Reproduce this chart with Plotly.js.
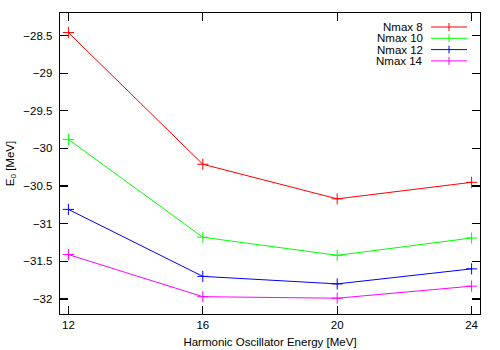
<!DOCTYPE html>
<html>
<head>
<meta charset="utf-8">
<script src="https://cdn.plot.ly/plotly-3.0.1.min.js"></script>
<style>
  html, body { margin: 0; padding: 0; background: #fff; }
  #chart { width: 500px; height: 350px; }
</style>
</head>
<body>
<div id="chart"></div>
<script>
'use strict';

const hoEnergy = [12, 16, 20, 24];
const nmax8    = [-28.46, -30.21, -30.67, -30.45];
const nmax10   = [-29.88, -31.18, -31.42, -31.19];
const nmax12   = [-30.81, -31.70, -31.80, -31.60];
const nmax14   = [-31.41, -31.97, -31.99, -31.83];

const seriesNames  = ['Nmax 8', 'Nmax 10', 'Nmax 12', 'Nmax 14'];
const seriesColors = ['#ff0000', '#00ff00', '#0000ff', '#ff00ff'];
const seriesValues = [nmax8, nmax10, nmax12, nmax14];

const font = { family: '"Liberation Sans", Arial, sans-serif', size: 11.5, color: '#000' };

const traces = seriesValues.map((vals, i) => ({
  x: hoEnergy,
  y: vals,
  name: seriesNames[i],
  mode: 'lines+markers',
  line: { color: seriesColors[i], width: 1 },
  marker: { symbol: 'cross-thin-open', size: 8, line: { color: seriesColors[i], width: 1 } },
  showlegend: false
}));

// gnuplot-style key: right-aligned text, sample line with a cross to its right
const annotations = [];
const shapes = [];
seriesNames.forEach((name, i) => {
  const yPx = 27 + i * 11.3;
  const yp = 1 - (yPx - 13) / 301;
  annotations.push({
    xref: 'paper', yref: 'paper', x: (425 - 60) / 420, y: yp,
    xanchor: 'right', yanchor: 'middle', showarrow: false,
    text: name, font: font
  });
  const x0 = (431 - 60) / 420, x1 = (467 - 60) / 420, xm = (449 - 60) / 420;
  const c = seriesColors[i];
  shapes.push({ type: 'line', xref: 'paper', yref: 'paper', x0: x0, x1: x1, y0: yp, y1: yp,
                line: { color: c, width: 1 } });
  shapes.push({ type: 'line', xref: 'paper', yref: 'paper', x0: xm, x1: xm,
                y0: yp - 4 / 301, y1: yp + 4 / 301, line: { color: c, width: 1 } });
});

const axisCommon = {
  showline: true, linecolor: '#000', linewidth: 1.3, mirror: 'allticks',
  ticks: 'inside', ticklen: 8, tickwidth: 1.3, tickcolor: '#000',
  showgrid: false, zeroline: false, tickfont: font
};

const layout = {
  width: 500, height: 350,
  paper_bgcolor: '#fff', plot_bgcolor: '#fff',
  font: font,
  margin: { l: 60, r: 20, t: 13, b: 36 },
  showlegend: false,
  xaxis: Object.assign({}, axisCommon, {
    range: [11.75, 24.25],
    tickvals: hoEnergy,
    ticktext: hoEnergy.map(String),
    title: { text: 'Harmonic Oscillator Energy [MeV]', font: font, standoff: 8 }
  }),
  yaxis: Object.assign({}, axisCommon, {
    range: [-32.2, -28.2],
    dtick: 0.5,
    ticklabelstandoff: 4,
    title: { text: 'E<sub>0</sub> [MeV]', font: font, standoff: 6 }
  }),
  annotations: annotations,
  shapes: shapes
};

Plotly.newPlot('chart', traces, layout, { displayModeBar: false, staticPlot: true });
</script>
</body>
</html>
